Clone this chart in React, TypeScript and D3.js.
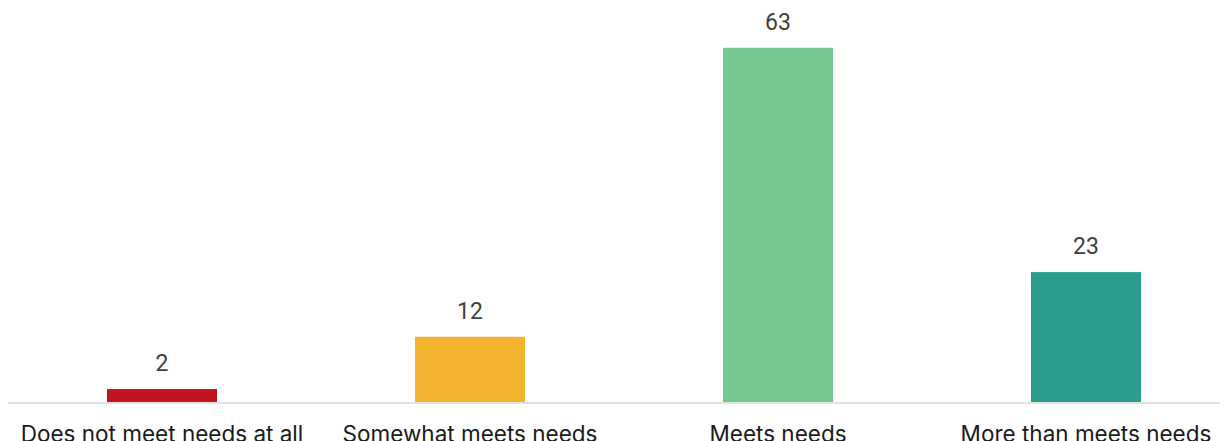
import React from "react";
import * as d3 from "d3";

const categories = [
  "Does not meet needs at all",
  "Somewhat meets needs",
  "Meets needs",
  "More than meets needs",
];
const values = [2.3, 11.6, 63, 23.1];
const colors = ["#c0141f", "#f3b52f", "#75c891", "#2a9d8c"];

const W = 1220;
const H = 433;
const baseY = 394;

export default function App() {
  const x = d3.scaleBand<string>().domain(categories).range([0, 1232]).padding(0);
  const y = d3.scaleLinear().domain([0, 70]).range([baseY, 0.4]);
  const barW = x.bandwidth() * (110 / 308);
  const fmt = d3.format(".0f");
  return (
    <svg width={W} height={H} style={{ display: "block" }}>
      {categories.map((c, i) => {
        const cx = (x(c) as number) + x.bandwidth() / 2;
        return (
          <g key={c}>
            <rect x={cx - barW / 2} y={y(values[i])} width={barW} height={baseY - y(values[i])} fill={colors[i]} />
            <text x={cx} y={y(values[i]) - 18} textAnchor="middle" fontFamily="Roboto" fontSize={23} fill="#404040">
              {fmt(values[i])}
            </text>
            <text x={cx} y={434} textAnchor="middle" fontFamily="Inter" fontSize={22.5} fill="#1a1a1a">
              {c}
            </text>
          </g>
        );
      })}
      <line x1={0} x2={1232} y1={395} y2={395} stroke="#d9d9d9" strokeWidth={1.5} />
    </svg>
  );
}
